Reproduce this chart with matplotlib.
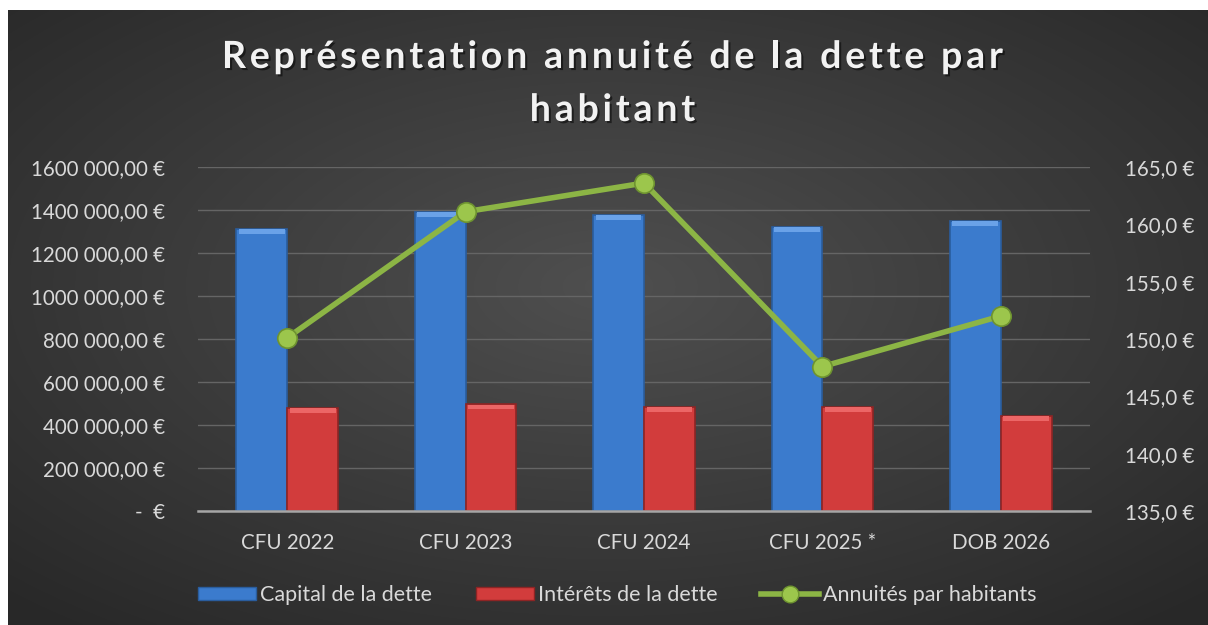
import numpy as np
import matplotlib.pyplot as plt
import matplotlib.patheffects as pe
from matplotlib.lines import Line2D
from matplotlib.patches import Patch
from matplotlib.transforms import IdentityTransform

# Données du graphique
categories = ["CFU 2022", "CFU 2023", "CFU 2024", "CFU 2025 *", "DOB 2026"]
capital = [1312000, 1392000, 1378000, 1322000, 1349000]
interets = [479000, 497000, 485000, 485000, 442000]
annuites = [150.1, 161.1, 163.6, 147.6, 152.0]

left_ticks = [0, 200000, 400000, 600000, 800000, 1000000, 1200000, 1400000, 1600000]
left_labels = ["-  €", "200 000,00 €", "400 000,00 €", "600 000,00 €", "800 000,00 €",
               "1000 000,00 €", "1200 000,00 €", "1400 000,00 €", "1600 000,00 €"]
right_ticks = [135, 140, 145, 150, 155, 160, 165]
right_labels = ["135,0 €", "140,0 €", "145,0 €", "150,0 €", "155,0 €", "160,0 €", "165,0 €"]

title_lines = ["Représentation annuité de la dette par", "habitant"]

plt.rcParams['font.family'] = ['Lato', 'DejaVu Sans']
txt = '#d9d9d9'

fig = plt.figure(figsize=(12.08, 6.25), dpi=100, facecolor='white')
renderer = fig.canvas.get_renderer()

# 1. Fond dégradé radial (sombre sur les bords, plus clair au centre)
bg = fig.add_axes([8 / 1208, 0, 1 - 8 / 1208, 1 - 10 / 625])
yy, xx = np.mgrid[-1:1:300j, -1:1:600j]
r = np.sqrt(xx ** 2 + (yy + 0.1) ** 2) / np.sqrt(2)
grad = 0.31 - 0.15 * np.clip(r, 0, 1)
bg.imshow(np.dstack([grad] * 3), aspect='auto', extent=[0, 1, 0, 1], interpolation='bilinear')
bg.set_axis_off()

# 2. Axe principal : barres
ax = fig.add_axes([198 / 1208, 1 - 511 / 625, (1090 - 198) / 1208, (511 - 167) / 625])
ax.patch.set_alpha(0)
x = np.arange(len(categories))
w = 0.285
ax.bar(x - w / 2, capital, w, color='#3b7bcd', edgecolor='#2a5d9e', linewidth=1.2, zorder=3)
ax.bar(x + w / 2, interets, w, color='#d23c3c', edgecolor='#8e2424', linewidth=1.2, zorder=3)
# petit biseau clair en haut des barres
bevel = 22000
ax.bar(x - w / 2, bevel, w * 0.9, bottom=[c - bevel - 2000 for c in capital],
       color='#6aa2e8', linewidth=0, zorder=4)
ax.bar(x + w / 2, bevel, w * 0.9, bottom=[c - bevel - 2000 for c in interets],
       color='#ec6666', linewidth=0, zorder=4)

ax.set_xlim(-0.5, len(categories) - 0.5)
ax.set_ylim(0, 1600000)
ax.set_yticks(left_ticks)
ax.set_yticklabels(left_labels)
ax.set_xticks(x)
ax.set_xticklabels(categories)
ax.tick_params(axis='y', length=0, pad=24, labelsize=14.8, labelcolor=txt)
ax.tick_params(axis='x', length=0, pad=16, labelsize=14.8, labelcolor=txt)
ax.grid(axis='y', color='#656565', linewidth=1.0, zorder=0)
for s in ['top', 'right', 'left']:
    ax.spines[s].set_visible(False)
ax.spines['bottom'].set_color('#a6a6a6')
ax.spines['bottom'].set_linewidth(1.8)
ax.spines['bottom'].set_zorder(5)

# 3. Axe secondaire : annuités par habitant
ax2 = ax.twinx()
ax2.set_ylim(135, 165)
ax2.set_yticks(right_ticks)
ax2.set_yticklabels(right_labels)
ax2.tick_params(axis='y', length=0, pad=25, labelsize=14.8, labelcolor=txt)
for s in ax2.spines.values():
    s.set_visible(False)
ax2.plot(x, annuites, color='#8cb545', linewidth=4, zorder=6,
         marker='o', markersize=14, markerfacecolor='#9cc64c', markeredgecolor='#6e9330',
         markeredgewidth=1.2)


# 4. Titre avec espacement des lettres (non géré nativement par matplotlib)
def text_width(s, **kw):
    t = fig.text(0, 0, s, **kw)
    wd = t.get_window_extent(renderer).width
    t.remove()
    return wd


title_kw = dict(fontsize=27, fontweight='bold', color='#f2f2f2')
shadow = [pe.withSimplePatchShadow(offset=(1.5, -1.5), shadow_rgbFace='black', alpha=0.5)]
line1 = title_lines[0]
track = (781 - text_width(line1, **title_kw)) / (len(line1) - 1)
centers_y = [625 - 57, 625 - 110]
for line, yc in zip(title_lines, centers_y):
    total = text_width(line, **title_kw) + track * (len(line) - 1)
    x0 = 1208 * 0.507 - total / 2
    for i, ch in enumerate(line):
        if ch == ' ':
            continue
        xl = text_width(line[:i + 1], **title_kw) - text_width(ch, **title_kw)
        fig.text(x0 + xl + track * i, yc, ch, ha='left', va='center',
                 transform=IdentityTransform(), path_effects=shadow, **title_kw)

# 5. Légende
handles = [Patch(facecolor='#3b7bcd', edgecolor='#2a5d9e'),
           Patch(facecolor='#d23c3c', edgecolor='#8e2424'),
           Line2D([0], [0], color='#8cb545', linewidth=4, marker='o', markersize=12,
                  markerfacecolor='#9cc64c', markeredgecolor='#6e9330')]
fig.legend(handles, ["Capital de la dette", "Intérêts de la dette", "Annuités par habitants"],
           loc='center', bbox_to_anchor=(0.511, 0.048), ncol=3, frameon=False,
           fontsize=15.5, labelcolor=txt, handlelength=2.7, handleheight=0.6,
           handletextpad=0.2, columnspacing=2.0)

fig.savefig('out.png', dpi=100, facecolor='white')
